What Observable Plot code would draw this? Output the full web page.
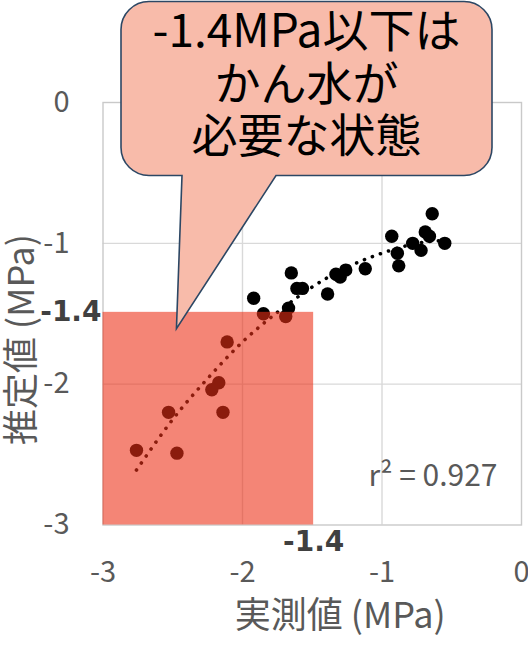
<!DOCTYPE html>
<html>
<head>
<meta charset="utf-8">
<script src="https://cdn.jsdelivr.net/npm/d3@7"></script>
<script src="https://cdn.jsdelivr.net/npm/@observablehq/plot@0.6"></script>
<style>
  html, body { margin: 0; padding: 0; background: white; }
</style>
</head>
<body>
<script>
// ---- data ----
const measured  = [-1.92,-1.85,-1.65,-1.61,-1.57,-1.67,-1.69,-1.39,-1.33,-1.30,-1.26,-1.12,-0.93,-0.89,-0.88,-0.78,-0.72,-0.69,-0.66,-0.64,-0.55,-2.11,-2.17,-2.22,-2.53,-2.14,-2.76,-2.47];
const estimated = [-1.39,-1.50,-1.21,-1.32,-1.32,-1.46,-1.52,-1.36,-1.22,-1.24,-1.19,-1.18,-0.95,-1.07,-1.16,-1.00,-1.05,-0.92,-0.95,-0.79,-1.00,-1.70,-1.99,-2.04,-2.20,-2.20,-2.47,-2.49];
// polynomial trend line (dotted)
const trendX = [-2.76,-2.5,-2.25,-2.0,-1.75,-1.5,-1.25,-1.0,-0.75,-0.55];
const trendY = [-2.61,-2.25,-1.96,-1.70,-1.49,-1.31,-1.17,-1.07,-1.00,-0.98];
const xTicks = [-3,-2,-1,0];
const yTicks = [-3,-2,-1,0];
const gridTicks = [-2,-1];
const threshold = -1.49;
const thresholdLabel = "-1.4";
const r2Label = "r² = 0.927";
const xTitle = "実測値 (MPa)";
const yTitle = "推定値 (MPa)";
const calloutLines = ["-1.4MPa以下は", "かん水が", "必要な状態"];
const calloutTip = {x: -2.47, y: -1.61};

const points = measured.map((m, i) => ({x: m, y: estimated[i]}));
const trend = trendX.map((t, i) => ({x: t, y: trendY[i]}));

const fmt = d => String(d);

const plot = Plot.plot({
  width: 528,
  height: 646,
  marginLeft: 102.5,
  marginRight: 7,
  marginTop: 102,
  marginBottom: 121.5,
  x: {domain: [-3, 0]},
  y: {domain: [-3, 0]},
  style: {fontFamily: "'Noto Sans CJK JP', 'Noto Sans', sans-serif", color: "#595959", background: "white", overflow: "visible"},
  marks: [
    Plot.gridX(gridTicks, {stroke: "#d9d9d9", strokeOpacity: 1, strokeWidth: 1.4}),
    Plot.gridY(gridTicks, {stroke: "#d9d9d9", strokeOpacity: 1, strokeWidth: 1.4}),
    Plot.frame({stroke: "#c9c9c9", strokeWidth: 1.4}),
    Plot.axisX(xTicks, {tickSize: 0, tickPadding: 36, fontSize: 29, label: null, tickFormat: fmt}),
    Plot.axisY(yTicks, {tickSize: 0, tickPadding: 33.5, fontSize: 29, label: null, tickFormat: fmt}),
    Plot.line(trend, {x: "x", y: "y", stroke: "black", strokeWidth: 3.6, strokeDasharray: "0.1 8.4", strokeLinecap: "round", curve: "natural"}),
    Plot.dot(points, {x: "x", y: "y", r: 6.7, fill: "black", stroke: "none"}),
    Plot.rect([threshold], {x1: () => -3, x2: d => d, y1: () => -3, y2: d => d, fill: "rgb(236,48,22)", fillOpacity: 0.59}),
    Plot.text([threshold], {x: () => -3, y: d => d, dx: -1.5, text: () => thresholdLabel, textAnchor: "end", fontFamily: "'DejaVu Sans', sans-serif", fontWeight: "bold", fontSize: 28, fill: "#404040"}),
    Plot.text([threshold], {x: d => d, y: () => -3, dy: 17, text: () => thresholdLabel, fontFamily: "'DejaVu Sans', sans-serif", fontWeight: "bold", fontSize: 28, fill: "#404040"}),
    Plot.text([r2Label], {text: d => d, frameAnchor: "bottom-right", textAnchor: "end", dx: -24, dy: -39.5, fontSize: 30, fill: "#595959"}),
    Plot.text([xTitle], {text: d => d, frameAnchor: "bottom", textAnchor: "middle", dx: 28, dy: 102.5, fontSize: 36, fill: "#595959"}),
    Plot.text([yTitle], {text: d => d, frameAnchor: "left", textAnchor: "middle", rotate: -90, dx: -81, dy: 25.75, fontSize: 36, fill: "#595959"})
  ]
});

document.body.append(plot);

// ---- speech-bubble callout, its tip placed via the plot scales ----
const sx = plot.scale("x"), sy = plot.scale("y");
const tx = sx.apply(calloutTip.x), ty = sy.apply(calloutTip.y);
const L = 121, R = 492, T = 1.5, B = 175.5, r = 28;
const baseL = 182, baseR = 276;
const path = [
  `M${L + r},${T}`, `H${R - r}`, `A${r},${r} 0 0 1 ${R},${T + r}`,
  `V${B - r}`, `A${r},${r} 0 0 1 ${R - r},${B}`,
  `H${baseR}`, `L${tx},${ty}`, `L${baseL},${B}`,
  `H${L + r}`, `A${r},${r} 0 0 1 ${L},${B - r}`,
  `V${T + r}`, `A${r},${r} 0 0 1 ${L + r},${T}`, "Z"
].join(" ");
const svg = d3.select(plot);
const g = svg.append("g").attr("class", "callout");
g.append("path").attr("d", path).attr("fill", "#f8bbaa").attr("stroke", "#2c4764").attr("stroke-width", 1.6);
const baselines = [47, 99.5, 152];
g.selectAll("text.cl").data(calloutLines).join("text")
  .attr("class", "cl")
  .attr("x", 306.5)
  .attr("y", (d, i) => baselines[i])
  .attr("text-anchor", "middle")
  .attr("font-family", "'Noto Sans CJK JP', sans-serif")
  .attr("font-size", 46)
  .attr("fill", "black")
  .text(d => d);
</script>
</body>
</html>
